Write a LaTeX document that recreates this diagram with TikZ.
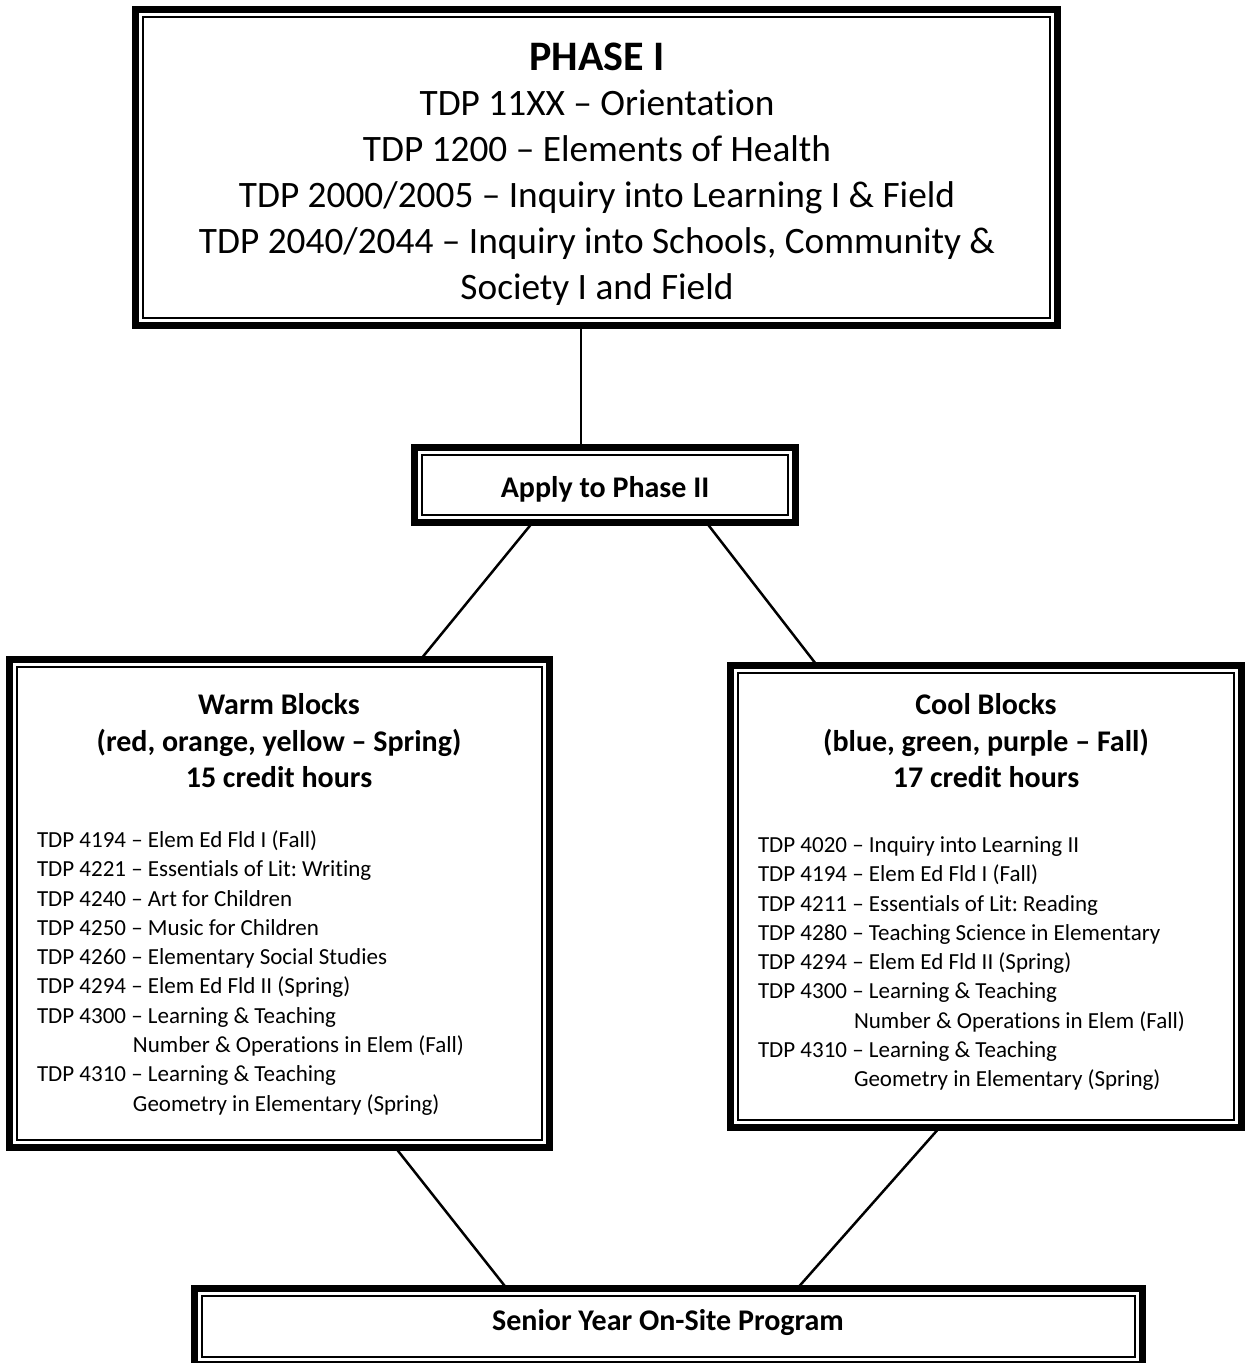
\documentclass[tikz,border=0pt]{standalone}
\usepackage{fontspec}
\setmainfont[Ligatures={NoCommon}]{Carlito}
\usetikzlibrary{calc}
\frenchspacing
\begin{document}
\begin{tikzpicture}[x=1pt,y=-1pt,
  dbox/.style={draw, line width=7pt, rectangle, inner sep=0pt, outer sep=0pt},
  innerline/.style={draw, line width=2pt},
  conn/.style={draw, line width=2.5pt},
  txt/.style={inner sep=0pt, outer sep=0pt},
  bigtxt/.style={txt, font=\fontsize{37.3}{46}\selectfont, align=center},
  headtxt/.style={txt, font=\fontsize{30}{36.5}\selectfont\bfseries, align=center},
  listtxt/.style={txt, font=\fontsize{23}{29.3}\selectfont, align=left}
]
\useasboundingbox (0,0) rectangle (1246,1363);

% boxes
\node[dbox, minimum width=921.7pt, minimum height=315.5pt] (p1) at (596.65,167.25) {};
\node[dbox, minimum width=380.5pt, minimum height=75pt] (apply) at (604.75,484.5) {};
\node[dbox, minimum width=540.3pt, minimum height=488pt] (warm) at (279.35,903) {};
\node[dbox, minimum width=511.6pt, minimum height=461.7pt] (cool) at (986,896.2) {};
\node[dbox, minimum width=948pt, minimum height=76pt] (senior) at (668,1326.75) {};

\foreach \n in {p1,apply,warm,cool,senior}
  \draw[innerline] ([shift={(7.5,7.5)}]\n.north west) rectangle ([shift={(-7.5,-7.5)}]\n.south east);

% texts
\node[txt, anchor=base, font=\fontsize{42}{46}\selectfont\bfseries] (p1title) at (597,70.5) {PHASE I};
\node[bigtxt, anchor=north] (p1body) at (597,82.8) {\strut TDP 11XX -- Orientation\\
TDP 1200 -- Elements of Health\\
TDP 2000/2005 -- Inquiry into Learning I \& Field\\
TDP 2040/2044 -- Inquiry into Schools, Community \&\\
Society I and Field};

\node[txt, anchor=base, font=\fontsize{30}{36}\selectfont\bfseries] (applytxt) at (605,497.6) {Apply to Phase II};
\node[txt, anchor=base, font=\fontsize{30}{36}\selectfont\bfseries] (seniortxt) at (668,1330.6) {Senior Year On-Site Program};

\node[headtxt, anchor=north] (warmhead) at (279,689) {\strut Warm Blocks\\
(red, orange, yellow -- Spring)\\
15 credit hours};
\node[headtxt, anchor=north] (coolhead) at (986,689) {\strut Cool Blocks\\
(blue, green, purple -- Fall)\\
17 credit hours};

\node[listtxt, anchor=north west] (warmlist) at (37,826.9) {\strut TDP 4194 -- Elem Ed Fld I (Fall)\\
TDP 4221 -- Essentials of Lit: Writing\\
TDP 4240 -- Art for Children\\
TDP 4250 -- Music for Children\\
TDP 4260 -- Elementary Social Studies\\
TDP 4294 -- Elem Ed Fld II (Spring)\\
TDP 4300 -- Learning \& Teaching\\
\hspace*{96pt}Number \& Operations in Elem (Fall)\\
TDP 4310 -- Learning \& Teaching\\
\hspace*{96pt}Geometry in Elementary (Spring)};

\node[listtxt, anchor=north west] (coollist) at (758,831.9) {\strut TDP 4020 -- Inquiry into Learning II\\
TDP 4194 -- Elem Ed Fld I (Fall)\\
TDP 4211 -- Essentials of Lit: Reading\\
TDP 4280 -- Teaching Science in Elementary\\
TDP 4294 -- Elem Ed Fld II (Spring)\\
TDP 4300 -- Learning \& Teaching\\
\hspace*{96pt}Number \& Operations in Elem (Fall)\\
TDP 4310 -- Learning \& Teaching\\
\hspace*{96pt}Geometry in Elementary (Spring)};

% connector attachment x positions
\coordinate (k0) at (581,0);
\coordinate (k1) at (533,0);
\coordinate (k2) at (421,0);
\coordinate (k3) at (706,0);
\coordinate (k4) at (817,0);
\coordinate (k5) at (395,0);
\coordinate (k6) at (507,0);
\coordinate (k7) at (940,0);
\coordinate (k8) at (797,0);

\draw[conn] (p1.south -| k0) -- (apply.north -| k0);
\draw[conn] (apply.south -| k1) -- (warm.north -| k2);
\draw[conn] (apply.south -| k3) -- (cool.north -| k4);
\draw[conn] (warm.south -| k5) -- (senior.north -| k6);
\draw[conn] (cool.south -| k7) -- (senior.north -| k8);
\end{tikzpicture}
\end{document}
